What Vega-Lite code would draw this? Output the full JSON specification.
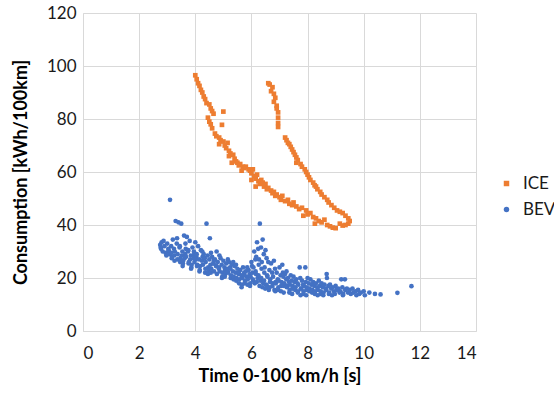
{
  "$schema": "https://vega.github.io/schema/vega-lite/v6.json",
  "autosize": {"type": "none"},
  "padding": {"left": 83, "top": 13, "right": 78, "bottom": 67},
  "width": 393,
  "height": 318,
  "background": "white",
  "config": {
    "font": "Lato",
    "view": {"stroke": null},
    "axis": {"gridColor": "#d9d9d9", "domainColor": "#d9d9d9", "ticks": false, "labelFontSize": 17, "labelColor": "#1a1a1a", "titleFontSize": 18, "titleFontWeight": "bold", "titleColor": "#000000"}
  },
  "data": {"values": [
    {"t":4.0,"c":96.5,"s":"ICE"},{"t":4.05,"c":95,"s":"ICE"},{"t":4.1,"c":93.5,"s":"ICE"},{"t":4.15,"c":92.5,"s":"ICE"},{"t":4.2,"c":91,"s":"ICE"},{"t":4.25,"c":90,"s":"ICE"},{"t":4.3,"c":88.5,"s":"ICE"},{"t":4.35,"c":87.5,"s":"ICE"},{"t":4.4,"c":86,"s":"ICE"},{"t":4.5,"c":85.5,"s":"ICE"},{"t":4.55,"c":84,"s":"ICE"},{"t":4.6,"c":83,"s":"ICE"},{"t":4.65,"c":82,"s":"ICE"},{"t":5.0,"c":82.8,"s":"ICE"},{"t":4.45,"c":80.5,"s":"ICE"},{"t":4.5,"c":79,"s":"ICE"},{"t":4.55,"c":78,"s":"ICE"},{"t":4.6,"c":76.5,"s":"ICE"},{"t":4.95,"c":77.8,"s":"ICE"},{"t":4.7,"c":74.5,"s":"ICE"},{"t":4.75,"c":73.5,"s":"ICE"},{"t":4.85,"c":73,"s":"ICE"},{"t":4.9,"c":72,"s":"ICE"},{"t":5.0,"c":71.5,"s":"ICE"},{"t":4.85,"c":70.5,"s":"ICE"},{"t":5.05,"c":70,"s":"ICE"},{"t":5.1,"c":69,"s":"ICE"},{"t":5.15,"c":71,"s":"ICE"},{"t":5.2,"c":68,"s":"ICE"},{"t":5.25,"c":67,"s":"ICE"},{"t":5.2,"c":66,"s":"ICE"},{"t":5.35,"c":66.5,"s":"ICE"},{"t":5.4,"c":65,"s":"ICE"},{"t":5.45,"c":64,"s":"ICE"},{"t":5.3,"c":63.5,"s":"ICE"},{"t":5.5,"c":63.5,"s":"ICE"},{"t":5.55,"c":62.5,"s":"ICE"},{"t":5.6,"c":63,"s":"ICE"},{"t":5.7,"c":62,"s":"ICE"},{"t":5.75,"c":61.5,"s":"ICE"},{"t":5.8,"c":62,"s":"ICE"},{"t":5.65,"c":60.5,"s":"ICE"},{"t":5.9,"c":61,"s":"ICE"},{"t":5.95,"c":60.5,"s":"ICE"},{"t":6.0,"c":59.5,"s":"ICE"},{"t":6.05,"c":61,"s":"ICE"},{"t":6.0,"c":57,"s":"ICE"},{"t":6.1,"c":58.5,"s":"ICE"},{"t":6.15,"c":57.5,"s":"ICE"},{"t":6.15,"c":54.5,"s":"ICE"},{"t":6.2,"c":59,"s":"ICE"},{"t":6.25,"c":56.5,"s":"ICE"},{"t":6.3,"c":55.5,"s":"ICE"},{"t":6.35,"c":57,"s":"ICE"},{"t":6.4,"c":56,"s":"ICE"},{"t":6.45,"c":54.5,"s":"ICE"},{"t":6.5,"c":55.5,"s":"ICE"},{"t":6.55,"c":53.5,"s":"ICE"},{"t":6.6,"c":54,"s":"ICE"},{"t":6.7,"c":53,"s":"ICE"},{"t":6.75,"c":52,"s":"ICE"},{"t":6.8,"c":52.5,"s":"ICE"},{"t":6.85,"c":51,"s":"ICE"},{"t":6.9,"c":51.5,"s":"ICE"},{"t":7.0,"c":50.5,"s":"ICE"},{"t":7.05,"c":49.5,"s":"ICE"},{"t":7.1,"c":51,"s":"ICE"},{"t":7.2,"c":49,"s":"ICE"},{"t":7.3,"c":49.5,"s":"ICE"},{"t":7.35,"c":48,"s":"ICE"},{"t":7.45,"c":47.5,"s":"ICE"},{"t":7.5,"c":48.5,"s":"ICE"},{"t":7.6,"c":47,"s":"ICE"},{"t":7.7,"c":46,"s":"ICE"},{"t":7.8,"c":46.5,"s":"ICE"},{"t":7.85,"c":43.5,"s":"ICE"},{"t":7.95,"c":45.5,"s":"ICE"},{"t":8.0,"c":44,"s":"ICE"},{"t":8.1,"c":44.5,"s":"ICE"},{"t":8.2,"c":43,"s":"ICE"},{"t":8.26,"c":40.5,"s":"ICE"},{"t":8.3,"c":42.5,"s":"ICE"},{"t":8.4,"c":41.5,"s":"ICE"},{"t":8.5,"c":41,"s":"ICE"},{"t":8.6,"c":42,"s":"ICE"},{"t":8.7,"c":40,"s":"ICE"},{"t":8.8,"c":39.5,"s":"ICE"},{"t":8.9,"c":39,"s":"ICE"},{"t":9.0,"c":38.8,"s":"ICE"},
    {"t":6.6,"c":93.5,"s":"ICE"},{"t":6.65,"c":93,"s":"ICE"},{"t":6.75,"c":92,"s":"ICE"},{"t":6.7,"c":90.5,"s":"ICE"},{"t":6.8,"c":89.5,"s":"ICE"},{"t":6.85,"c":88,"s":"ICE"},{"t":6.8,"c":86.5,"s":"ICE"},{"t":6.9,"c":85,"s":"ICE"},{"t":6.9,"c":84,"s":"ICE"},{"t":6.95,"c":82.5,"s":"ICE"},{"t":6.95,"c":80.5,"s":"ICE"},{"t":6.95,"c":78.5,"s":"ICE"},{"t":6.95,"c":77,"s":"ICE"},{"t":7.2,"c":73,"s":"ICE"},{"t":7.25,"c":72,"s":"ICE"},{"t":7.3,"c":71,"s":"ICE"},{"t":7.35,"c":70.5,"s":"ICE"},{"t":7.4,"c":69.5,"s":"ICE"},{"t":7.45,"c":68.5,"s":"ICE"},{"t":7.5,"c":67.5,"s":"ICE"},{"t":7.55,"c":66.5,"s":"ICE"},{"t":7.6,"c":65.5,"s":"ICE"},{"t":7.65,"c":64.5,"s":"ICE"},{"t":7.6,"c":63.5,"s":"ICE"},{"t":7.75,"c":63,"s":"ICE"},{"t":7.8,"c":62,"s":"ICE"},{"t":7.9,"c":61,"s":"ICE"},{"t":7.95,"c":60,"s":"ICE"},{"t":8.0,"c":59,"s":"ICE"},{"t":8.05,"c":58,"s":"ICE"},{"t":8.1,"c":57,"s":"ICE"},{"t":8.2,"c":56,"s":"ICE"},{"t":8.25,"c":55,"s":"ICE"},{"t":8.3,"c":54.5,"s":"ICE"},{"t":8.35,"c":53.5,"s":"ICE"},{"t":8.45,"c":52.5,"s":"ICE"},{"t":8.5,"c":51.5,"s":"ICE"},{"t":8.6,"c":50.5,"s":"ICE"},{"t":8.7,"c":49.5,"s":"ICE"},{"t":8.75,"c":48.5,"s":"ICE"},{"t":8.85,"c":47.5,"s":"ICE"},{"t":8.95,"c":46.5,"s":"ICE"},{"t":9.05,"c":45.5,"s":"ICE"},{"t":9.15,"c":45,"s":"ICE"},{"t":9.25,"c":44.5,"s":"ICE"},{"t":9.35,"c":43.5,"s":"ICE"},{"t":9.45,"c":42.5,"s":"ICE"},{"t":9.5,"c":41.5,"s":"ICE"},{"t":9.45,"c":40.5,"s":"ICE"},{"t":9.35,"c":40,"s":"ICE"},{"t":9.25,"c":39.8,"s":"ICE"},{"t":9.15,"c":40.5,"s":"ICE"},
    {"t":2.75,"c":32.5,"s":"BEV"},{"t":2.78,"c":31,"s":"BEV"},{"t":2.8,"c":33.5,"s":"BEV"},{"t":2.84,"c":30,"s":"BEV"},{"t":2.77,"c":31.5,"s":"BEV"},{"t":2.9,"c":32,"s":"BEV"},{"t":2.94,"c":29.5,"s":"BEV"},{"t":2.87,"c":34,"s":"BEV"},{"t":3.0,"c":33,"s":"BEV"},{"t":3.04,"c":31,"s":"BEV"},{"t":2.97,"c":28.5,"s":"BEV"},{"t":3.06,"c":30,"s":"BEV"},
    {"t":3.1,"c":49.5,"s":"BEV"},{"t":3.14,"c":32,"s":"BEV"},{"t":3.07,"c":29,"s":"BEV"},{"t":3.16,"c":27.5,"s":"BEV"},{"t":3.05,"c":30.5,"s":"BEV"},{"t":3.2,"c":34.5,"s":"BEV"},{"t":3.24,"c":31,"s":"BEV"},{"t":3.17,"c":28,"s":"BEV"},{"t":3.26,"c":26.5,"s":"BEV"},{"t":3.15,"c":29.5,"s":"BEV"},
    {"t":3.3,"c":41.5,"s":"BEV"},{"t":3.34,"c":33,"s":"BEV"},{"t":3.27,"c":30,"s":"BEV"},{"t":3.36,"c":27,"s":"BEV"},{"t":3.25,"c":28.5,"s":"BEV"},{"t":3.4,"c":41,"s":"BEV"},{"t":3.44,"c":31.5,"s":"BEV"},{"t":3.37,"c":29,"s":"BEV"},{"t":3.46,"c":26,"s":"BEV"},{"t":3.35,"c":35,"s":"BEV"},
    {"t":3.5,"c":40.5,"s":"BEV"},{"t":3.54,"c":30,"s":"BEV"},{"t":3.47,"c":27.5,"s":"BEV"},{"t":3.56,"c":25.5,"s":"BEV"},{"t":3.45,"c":32,"s":"BEV"},{"t":3.52,"c":28.5,"s":"BEV"},{"t":3.6,"c":36,"s":"BEV"},{"t":3.64,"c":29,"s":"BEV"},{"t":3.57,"c":26.5,"s":"BEV"},{"t":3.66,"c":31,"s":"BEV"},{"t":3.55,"c":24.5,"s":"BEV"},{"t":3.62,"c":27.5,"s":"BEV"},
    {"t":3.7,"c":35.5,"s":"BEV"},{"t":3.74,"c":30,"s":"BEV"},{"t":3.67,"c":28,"s":"BEV"},{"t":3.76,"c":25.5,"s":"BEV"},{"t":3.65,"c":33,"s":"BEV"},{"t":3.8,"c":34,"s":"BEV"},{"t":3.84,"c":28.5,"s":"BEV"},{"t":3.77,"c":26,"s":"BEV"},{"t":3.86,"c":24,"s":"BEV"},{"t":3.75,"c":30.5,"s":"BEV"},{"t":3.82,"c":27,"s":"BEV"},
    {"t":3.9,"c":31.5,"s":"BEV"},{"t":3.94,"c":27.5,"s":"BEV"},{"t":3.87,"c":25,"s":"BEV"},{"t":3.96,"c":29,"s":"BEV"},{"t":3.85,"c":23.5,"s":"BEV"},{"t":4.0,"c":33.5,"s":"BEV"},{"t":4.04,"c":28,"s":"BEV"},{"t":3.97,"c":26,"s":"BEV"},{"t":4.06,"c":24.5,"s":"BEV"},{"t":3.95,"c":30,"s":"BEV"},{"t":4.02,"c":27,"s":"BEV"},
    {"t":4.1,"c":32,"s":"BEV"},{"t":4.14,"c":27,"s":"BEV"},{"t":4.07,"c":25,"s":"BEV"},{"t":4.16,"c":23,"s":"BEV"},{"t":4.05,"c":29,"s":"BEV"},{"t":4.2,"c":30.5,"s":"BEV"},{"t":4.24,"c":26.5,"s":"BEV"},{"t":4.17,"c":24.5,"s":"BEV"},{"t":4.26,"c":28,"s":"BEV"},{"t":4.15,"c":22.5,"s":"BEV"},
    {"t":4.3,"c":29,"s":"BEV"},{"t":4.34,"c":27.5,"s":"BEV"},{"t":4.27,"c":25,"s":"BEV"},{"t":4.36,"c":23.5,"s":"BEV"},{"t":4.25,"c":30,"s":"BEV"},{"t":4.4,"c":40.5,"s":"BEV"},{"t":4.52,"c":35,"s":"BEV"},{"t":4.44,"c":28.5,"s":"BEV"},{"t":4.37,"c":26,"s":"BEV"},{"t":4.46,"c":24,"s":"BEV"},{"t":4.35,"c":22,"s":"BEV"},
    {"t":4.5,"c":27,"s":"BEV"},{"t":4.54,"c":25,"s":"BEV"},{"t":4.47,"c":23,"s":"BEV"},{"t":4.56,"c":29.5,"s":"BEV"},{"t":4.45,"c":21.5,"s":"BEV"},{"t":4.6,"c":28,"s":"BEV"},{"t":4.64,"c":25.5,"s":"BEV"},{"t":4.57,"c":23.5,"s":"BEV"},{"t":4.66,"c":26.5,"s":"BEV"},{"t":4.55,"c":22,"s":"BEV"},
    {"t":4.7,"c":27,"s":"BEV"},{"t":4.74,"c":24.5,"s":"BEV"},{"t":4.67,"c":22.5,"s":"BEV"},{"t":4.76,"c":30,"s":"BEV"},{"t":4.65,"c":25.5,"s":"BEV"},{"t":4.8,"c":26,"s":"BEV"},{"t":4.84,"c":23.5,"s":"BEV"},{"t":4.77,"c":21.5,"s":"BEV"},{"t":4.86,"c":28.5,"s":"BEV"},{"t":4.75,"c":24.5,"s":"BEV"},
    {"t":4.9,"c":27.5,"s":"BEV"},{"t":4.94,"c":25,"s":"BEV"},{"t":4.87,"c":22.5,"s":"BEV"},{"t":4.96,"c":20.5,"s":"BEV"},{"t":4.85,"c":24,"s":"BEV"},{"t":5.0,"c":26.5,"s":"BEV"},{"t":5.04,"c":24,"s":"BEV"},{"t":4.97,"c":22,"s":"BEV"},{"t":5.06,"c":23,"s":"BEV"},{"t":4.95,"c":20,"s":"BEV"},
    {"t":5.1,"c":25.5,"s":"BEV"},{"t":5.14,"c":23.5,"s":"BEV"},{"t":5.07,"c":21.5,"s":"BEV"},{"t":5.16,"c":27,"s":"BEV"},{"t":5.05,"c":20.5,"s":"BEV"},{"t":5.2,"c":26,"s":"BEV"},{"t":5.24,"c":24,"s":"BEV"},{"t":5.17,"c":22,"s":"BEV"},{"t":5.26,"c":20,"s":"BEV"},{"t":5.15,"c":23,"s":"BEV"},
    {"t":5.3,"c":25,"s":"BEV"},{"t":5.34,"c":22.5,"s":"BEV"},{"t":5.27,"c":21,"s":"BEV"},{"t":5.36,"c":19.5,"s":"BEV"},{"t":5.25,"c":23.5,"s":"BEV"},{"t":5.4,"c":24.5,"s":"BEV"},{"t":5.44,"c":22,"s":"BEV"},{"t":5.37,"c":20.5,"s":"BEV"},{"t":5.46,"c":19,"s":"BEV"},{"t":5.35,"c":26,"s":"BEV"},
    {"t":5.5,"c":23.5,"s":"BEV"},{"t":5.54,"c":21.5,"s":"BEV"},{"t":5.47,"c":20,"s":"BEV"},{"t":5.56,"c":18,"s":"BEV"},{"t":5.45,"c":25,"s":"BEV"},{"t":5.6,"c":23,"s":"BEV"},{"t":5.64,"c":21,"s":"BEV"},{"t":5.57,"c":19.5,"s":"BEV"},{"t":5.66,"c":17.5,"s":"BEV"},{"t":5.55,"c":22,"s":"BEV"},
    {"t":5.7,"c":24,"s":"BEV"},{"t":5.74,"c":22,"s":"BEV"},{"t":5.67,"c":20,"s":"BEV"},{"t":5.76,"c":18,"s":"BEV"},{"t":5.65,"c":16.5,"s":"BEV"},{"t":5.8,"c":22.5,"s":"BEV"},{"t":5.84,"c":20.5,"s":"BEV"},{"t":5.77,"c":19,"s":"BEV"},{"t":5.86,"c":17.5,"s":"BEV"},{"t":5.75,"c":21,"s":"BEV"},
    {"t":5.9,"c":23,"s":"BEV"},{"t":5.94,"c":21.5,"s":"BEV"},{"t":5.87,"c":19.5,"s":"BEV"},{"t":5.96,"c":18,"s":"BEV"},{"t":5.85,"c":24,"s":"BEV"},{"t":6.0,"c":26,"s":"BEV"},{"t":6.04,"c":22,"s":"BEV"},{"t":5.97,"c":20.5,"s":"BEV"},{"t":6.06,"c":19,"s":"BEV"},{"t":5.95,"c":17,"s":"BEV"},{"t":6.02,"c":24.5,"s":"BEV"},
    {"t":6.1,"c":30,"s":"BEV"},{"t":6.14,"c":27,"s":"BEV"},{"t":6.07,"c":24,"s":"BEV"},{"t":6.16,"c":21.5,"s":"BEV"},{"t":6.05,"c":19.5,"s":"BEV"},{"t":6.12,"c":18,"s":"BEV"},{"t":6.2,"c":33.5,"s":"BEV"},{"t":6.24,"c":31,"s":"BEV"},{"t":6.17,"c":28,"s":"BEV"},{"t":6.26,"c":25,"s":"BEV"},{"t":6.15,"c":22.5,"s":"BEV"},{"t":6.22,"c":20,"s":"BEV"},{"t":6.19,"c":18.5,"s":"BEV"},
    {"t":6.3,"c":40.5,"s":"BEV"},{"t":6.34,"c":31.5,"s":"BEV"},{"t":6.27,"c":27,"s":"BEV"},{"t":6.36,"c":23.5,"s":"BEV"},{"t":6.25,"c":21,"s":"BEV"},{"t":6.32,"c":19,"s":"BEV"},{"t":6.29,"c":17,"s":"BEV"},{"t":6.4,"c":34.5,"s":"BEV"},{"t":6.44,"c":29,"s":"BEV"},{"t":6.37,"c":26,"s":"BEV"},{"t":6.46,"c":22,"s":"BEV"},{"t":6.35,"c":20,"s":"BEV"},{"t":6.42,"c":18,"s":"BEV"},{"t":6.39,"c":16.5,"s":"BEV"},
    {"t":6.5,"c":30.5,"s":"BEV"},{"t":6.54,"c":27.5,"s":"BEV"},{"t":6.47,"c":24,"s":"BEV"},{"t":6.56,"c":21,"s":"BEV"},{"t":6.45,"c":19,"s":"BEV"},{"t":6.52,"c":17.5,"s":"BEV"},{"t":6.49,"c":16,"s":"BEV"},{"t":6.6,"c":26,"s":"BEV"},{"t":6.64,"c":23,"s":"BEV"},{"t":6.57,"c":20.5,"s":"BEV"},{"t":6.66,"c":18.5,"s":"BEV"},{"t":6.55,"c":17,"s":"BEV"},{"t":6.62,"c":15.5,"s":"BEV"},
    {"t":6.7,"c":25.5,"s":"BEV"},{"t":6.74,"c":22,"s":"BEV"},{"t":6.67,"c":19.5,"s":"BEV"},{"t":6.76,"c":18,"s":"BEV"},{"t":6.65,"c":16.5,"s":"BEV"},{"t":6.8,"c":26.5,"s":"BEV"},{"t":6.84,"c":23.5,"s":"BEV"},{"t":6.77,"c":20.5,"s":"BEV"},{"t":6.86,"c":18.5,"s":"BEV"},{"t":6.75,"c":17,"s":"BEV"},{"t":6.82,"c":15.5,"s":"BEV"},
    {"t":6.9,"c":22,"s":"BEV"},{"t":6.94,"c":19.5,"s":"BEV"},{"t":6.87,"c":18,"s":"BEV"},{"t":6.96,"c":16.5,"s":"BEV"},{"t":6.85,"c":15,"s":"BEV"},{"t":7.0,"c":24,"s":"BEV"},{"t":7.04,"c":21,"s":"BEV"},{"t":6.97,"c":19,"s":"BEV"},{"t":7.06,"c":17,"s":"BEV"},{"t":6.95,"c":15.5,"s":"BEV"},
    {"t":7.1,"c":25,"s":"BEV"},{"t":7.14,"c":20.5,"s":"BEV"},{"t":7.07,"c":18.5,"s":"BEV"},{"t":7.16,"c":17,"s":"BEV"},{"t":7.05,"c":15,"s":"BEV"},{"t":7.12,"c":22,"s":"BEV"},{"t":7.2,"c":21.5,"s":"BEV"},{"t":7.24,"c":19.5,"s":"BEV"},{"t":7.17,"c":18,"s":"BEV"},{"t":7.26,"c":16.5,"s":"BEV"},{"t":7.15,"c":14.5,"s":"BEV"},
    {"t":7.3,"c":20,"s":"BEV"},{"t":7.34,"c":18.5,"s":"BEV"},{"t":7.27,"c":17,"s":"BEV"},{"t":7.36,"c":15.5,"s":"BEV"},{"t":7.25,"c":22.5,"s":"BEV"},{"t":7.4,"c":21,"s":"BEV"},{"t":7.44,"c":19,"s":"BEV"},{"t":7.37,"c":17.5,"s":"BEV"},{"t":7.46,"c":16,"s":"BEV"},{"t":7.35,"c":14.5,"s":"BEV"},
    {"t":7.5,"c":20.5,"s":"BEV"},{"t":7.54,"c":18.5,"s":"BEV"},{"t":7.47,"c":17,"s":"BEV"},{"t":7.56,"c":15.5,"s":"BEV"},{"t":7.45,"c":14,"s":"BEV"},{"t":7.6,"c":19.5,"s":"BEV"},{"t":7.64,"c":18,"s":"BEV"},{"t":7.57,"c":16.5,"s":"BEV"},{"t":7.66,"c":15,"s":"BEV"},
    {"t":7.72,"c":24,"s":"BEV"},{"t":7.74,"c":20,"s":"BEV"},{"t":7.67,"c":17.5,"s":"BEV"},{"t":7.76,"c":16,"s":"BEV"},{"t":7.65,"c":14.5,"s":"BEV"},{"t":7.8,"c":19,"s":"BEV"},{"t":7.84,"c":17.5,"s":"BEV"},{"t":7.77,"c":16,"s":"BEV"},{"t":7.86,"c":15,"s":"BEV"},{"t":7.75,"c":13.5,"s":"BEV"},
    {"t":7.92,"c":24,"s":"BEV"},{"t":7.94,"c":18.5,"s":"BEV"},{"t":7.87,"c":17,"s":"BEV"},{"t":7.96,"c":15.5,"s":"BEV"},{"t":7.85,"c":14,"s":"BEV"},{"t":8.0,"c":20,"s":"BEV"},{"t":8.04,"c":18,"s":"BEV"},{"t":7.97,"c":16.5,"s":"BEV"},{"t":8.06,"c":15,"s":"BEV"},{"t":7.95,"c":13.5,"s":"BEV"},
    {"t":8.1,"c":19.5,"s":"BEV"},{"t":8.14,"c":17.5,"s":"BEV"},{"t":8.07,"c":16,"s":"BEV"},{"t":8.16,"c":14.5,"s":"BEV"},{"t":8.2,"c":18.5,"s":"BEV"},{"t":8.24,"c":17,"s":"BEV"},{"t":8.17,"c":15.5,"s":"BEV"},{"t":8.26,"c":14,"s":"BEV"},
    {"t":8.3,"c":18,"s":"BEV"},{"t":8.34,"c":16.5,"s":"BEV"},{"t":8.27,"c":15,"s":"BEV"},{"t":8.36,"c":13.5,"s":"BEV"},{"t":8.4,"c":19,"s":"BEV"},{"t":8.44,"c":17,"s":"BEV"},{"t":8.37,"c":15.5,"s":"BEV"},{"t":8.46,"c":14,"s":"BEV"},
    {"t":8.5,"c":18,"s":"BEV"},{"t":8.54,"c":16.5,"s":"BEV"},{"t":8.47,"c":15,"s":"BEV"},{"t":8.56,"c":13.5,"s":"BEV"},{"t":8.6,"c":17.5,"s":"BEV"},{"t":8.64,"c":16,"s":"BEV"},{"t":8.57,"c":14.5,"s":"BEV"},
    {"t":8.68,"c":21.5,"s":"BEV"},{"t":8.69,"c":20,"s":"BEV"},{"t":8.74,"c":17,"s":"BEV"},{"t":8.67,"c":15.5,"s":"BEV"},{"t":8.76,"c":14,"s":"BEV"},{"t":8.8,"c":17.5,"s":"BEV"},{"t":8.84,"c":16,"s":"BEV"},{"t":8.77,"c":14.5,"s":"BEV"},
    {"t":8.9,"c":16.5,"s":"BEV"},{"t":8.94,"c":15,"s":"BEV"},{"t":8.87,"c":13.5,"s":"BEV"},{"t":9.0,"c":17,"s":"BEV"},{"t":9.04,"c":15.5,"s":"BEV"},{"t":8.97,"c":14,"s":"BEV"},{"t":9.1,"c":16,"s":"BEV"},{"t":9.14,"c":14.5,"s":"BEV"},
    {"t":9.2,"c":19.5,"s":"BEV"},{"t":9.24,"c":16.5,"s":"BEV"},{"t":9.17,"c":15,"s":"BEV"},{"t":9.26,"c":13.5,"s":"BEV"},{"t":9.33,"c":19.5,"s":"BEV"},{"t":9.34,"c":15.5,"s":"BEV"},{"t":9.27,"c":14,"s":"BEV"},{"t":9.4,"c":16,"s":"BEV"},{"t":9.44,"c":14.5,"s":"BEV"},
    {"t":9.5,"c":15.5,"s":"BEV"},{"t":9.54,"c":14,"s":"BEV"},{"t":9.6,"c":16,"s":"BEV"},{"t":9.64,"c":14.5,"s":"BEV"},{"t":9.7,"c":15,"s":"BEV"},{"t":9.74,"c":13.5,"s":"BEV"},{"t":9.8,"c":15.5,"s":"BEV"},{"t":9.84,"c":14,"s":"BEV"},
    {"t":9.9,"c":14.5,"s":"BEV"},{"t":10.0,"c":15,"s":"BEV"},{"t":10.04,"c":13.5,"s":"BEV"},{"t":10.2,"c":14.5,"s":"BEV"},{"t":10.4,"c":14,"s":"BEV"},{"t":10.6,"c":13.8,"s":"BEV"},{"t":11.2,"c":14.4,"s":"BEV"},{"t":11.7,"c":16.9,"s":"BEV"}
  ]},
  "mark": {"type": "point", "filled": true, "opacity": 1},
  "encoding": {
    "x": {"field": "t", "type": "quantitative", "title": "Time 0-100 km/h [s]", "scale": {"domain": [0, 14], "nice": false}, "axis": {"values": [0,2,4,6,8,10,12,14], "labelPadding": 14, "titlePadding": 6}},
    "y": {"field": "c", "type": "quantitative", "title": "Consumption [kWh/100km]", "scale": {"domain": [0, 120], "nice": false}, "axis": {"values": [0,20,40,60,80,100,120], "labelPadding": 7, "titlePadding": 16}},
    "color": {"field": "s", "type": "nominal", "sort": ["ICE", "BEV"], "scale": {"domain": ["ICE", "BEV"], "range": ["#ED7D31", "#4472C4"]}, "legend": {"title": null, "orient": "none", "legendX": 415, "legendY": 162, "labelFontSize": 17, "labelColor": "#1a1a1a", "symbolSize": 30, "rowPadding": 8, "labelOffset": 8}},
    "shape": {"field": "s", "type": "nominal", "sort": ["ICE", "BEV"], "scale": {"domain": ["ICE", "BEV"], "range": ["square", "circle"]}, "legend": null},
    "size": {"value": 22}
  }
}
